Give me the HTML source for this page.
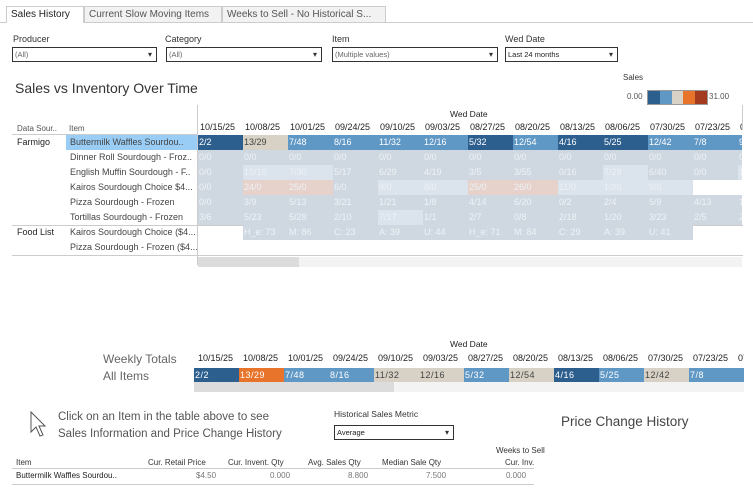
<!DOCTYPE html>
<html><head><meta charset="utf-8"><style>
body{margin:0;width:753px;height:498px;overflow:hidden;background:#fff;font-family:"Liberation Sans",sans-serif;color:#333;position:relative}
.a{position:absolute;white-space:nowrap}
.tab{position:absolute;top:6px;height:16px;font-size:10px;line-height:16px;padding:0 4px;border:1px solid #ccc;border-bottom:none;background:#f2f2f2;color:#555;white-space:nowrap;overflow:hidden;box-sizing:border-box}
.lbl{font-size:9px;color:#333}
.dd{position:absolute;height:13px;border:1px solid #333;font-size:7.5px;line-height:13px;padding-left:2px;color:#666;box-sizing:content-box;white-space:nowrap}
.dd:after{content:"▾";position:absolute;right:4px;top:0;font-size:8px;color:#333}
.cell{position:absolute;height:15px;font-size:9px;line-height:15px;padding-left:1px;box-sizing:border-box;color:#fff;white-space:nowrap;overflow:hidden}
.hd{font-size:9px;color:#222}
</style></head><body>
<div class="a" style="left:0;top:22px;width:753px;height:1px;background:#ccc"></div>
<div class="tab" style="left:6px;width:78px;background:#fff;color:#222;height:17px">Sales History</div>
<div class="tab" style="left:84px;width:138px">Current Slow Moving Items</div>
<div class="tab" style="left:222px;width:164px">Weeks to Sell - No Historical S...</div>

<div class="a lbl" style="left:13px;top:34px">Producer</div>
<div class="dd" style="left:12px;top:47px;width:141px">(All)</div>
<div class="a lbl" style="left:165px;top:34px">Category</div>
<div class="dd" style="left:166px;top:47px;width:152px">(All)</div>
<div class="a lbl" style="left:332px;top:34px">Item</div>
<div class="dd" style="left:332px;top:47px;width:162px">(Multiple values)</div>
<div class="a lbl" style="left:505px;top:34px">Wed Date</div>
<div class="dd" style="left:505px;top:47px;width:109px;color:#222">Last 24 months</div>

<div class="a" style="left:15px;top:80px;font-size:14px;color:#333">Sales vs Inventory Over Time</div>
<div class="a" style="left:623px;top:73px;font-size:8px">Sales</div>
<div class="a" style="left:627px;top:92px;font-size:8px;color:#555">0.00</div>
<div class="a" style="left:647px;top:90px;width:59px;height:13px;border:1px solid #999;display:flex">
<div style="flex:1;background:#2c5f8e"></div><div style="flex:1;background:#5f97c5"></div><div style="flex:1;background:#d7d2c5"></div><div style="flex:1;background:#e8732a"></div><div style="flex:1;background:#a43b1f"></div></div>
<div class="a" style="left:709px;top:92px;font-size:8px;color:#555">31.00</div>

<div class="a" style="left:197px;top:105px;width:1px;height:160px;background:#ccc"></div>
<div class="a" style="left:742px;top:105px;width:1px;height:25px;background:#ccc"></div>
<div class="a hd" style="left:450px;top:109px;font-size:8.5px">Wed Date</div>
<div class="a" style="left:17px;top:124px;font-size:8px;color:#555">Data Sour..</div>
<div class="a" style="left:69px;top:124px;font-size:8px;color:#555">Item</div>
<div class="a" style="left:12px;top:134px;width:185px;height:1px;background:#ccc"></div>
<div class="a" style="left:12px;top:225px;width:731px;height:1px;background:#ccc"></div>
<div class="a" style="left:12px;top:255px;width:731px;height:1px;background:#ccc"></div>
<div class="a" style="left:198px;top:257px;width:544px;height:10px;background:#f3f3f3"></div>
<div class="a" style="left:198px;top:257px;width:101px;height:10px;background:#dcdcdc"></div>
<div class="a" style="left:17px;top:137px;font-size:9px;color:#222">Farmigo</div>
<div class="a" style="left:17px;top:227px;font-size:9px;color:#222">Food List</div>
<div class="a" style="left:66px;top:135px;width:131px;height:15px;background:#99cdf5"></div>
<div id="grid"></div>

<div class="a hd" style="left:450px;top:339px;font-size:8.5px">Wed Date</div>
<div class="a" style="left:103px;top:352px;font-size:12px;color:#666">Weekly Totals</div>
<div class="a" style="left:103px;top:369px;font-size:12px;color:#666">All Items</div>
<div class="a" style="left:194px;top:382px;width:550px;height:10px;background:#f3f3f3"></div>
<div class="a" style="left:194px;top:382px;width:200px;height:10px;background:#dcdcdc"></div>
<div id="weekly"></div>

<svg class="a" style="left:29px;top:410px" width="18" height="28"><path d="M2 2 L2 22 L7 17 L11 26 L14 25 L10 16 L16 16 Z" fill="#fff" stroke="#555" stroke-width="1"/></svg>
<div class="a" style="left:58px;top:409px;font-size:11.5px;line-height:17px;color:#555">Click on an Item in the table above to see<br>Sales Information and Price Change History</div>
<div class="a lbl" style="left:334px;top:409px;font-size:8.5px">Historical Sales Metric</div>
<div class="dd" style="left:334px;top:425px;width:116px;color:#222">Average</div>
<div class="a" style="left:561px;top:414px;font-size:13.5px;color:#444">Price Change History</div>

<div class="a" style="left:496px;top:446px;font-size:8px;color:#333">Weeks to Sell</div>
<div class="a" style="left:16px;top:458px;font-size:8px">Item</div>
<div class="a" style="left:148px;top:458px;font-size:8px">Cur. Retail Price</div>
<div class="a" style="left:228px;top:458px;font-size:8px">Cur. Invent. Qty</div>
<div class="a" style="left:308px;top:458px;font-size:8px">Avg. Sales Qty</div>
<div class="a" style="left:382px;top:458px;font-size:8px">Median Sale Qty</div>
<div class="a" style="left:505px;top:458px;font-size:8px">Cur. Inv.</div>
<div class="a" style="left:12px;top:468px;width:522px;height:1px;background:#ccc"></div>
<div class="a" style="left:16px;top:471px;font-size:8px;color:#222">Buttermilk Waffles Sourdou..</div>
<div class="a" style="left:196px;top:471px;font-size:8px;color:#777">$4.50</div>
<div class="a" style="left:270px;top:471px;font-size:8px;color:#777">0.000</div>
<div class="a" style="left:348px;top:471px;font-size:8px;color:#777">8.800</div>
<div class="a" style="left:426px;top:471px;font-size:8px;color:#777">7.500</div>
<div class="a" style="left:506px;top:471px;font-size:8px;color:#777">0.000</div>
<div class="a" style="left:12px;top:484px;width:522px;height:1px;background:#ccc"></div>

<script>
const dates=["10/15/25","10/08/25","10/01/25","09/24/25","09/10/25","09/03/25","08/27/25","08/20/25","08/13/25","08/06/25","07/30/25","07/23/25","07/16/25"];
const items=["Buttermilk Waffles Sourdou..","Dinner Roll Sourdough - Froz..","English Muffin Sourdough - F..","Kairos Sourdough Choice $4...","Pizza Sourdough - Frozen","Tortillas Sourdough - Frozen","Kairos Sourdough Choice ($4...","Pizza Sourdough - Frozen ($4..."];
const row0=["2/2","13/29","7/48","8/16","11/32","12/16","5/32","12/54","4/16","5/25","12/42","7/8","9/"];
const row1=["0/0","0/0","0/0","0/0","0/0","0/0","0/0","0/0","0/0","0/0","0/0","0/0","0/"];
const row2=["0/0","10/10","7/30","5/17","6/29","4/19","3/5","3/55","0/16","7/29","6/40","0/0","1"];
const row3=["0/0","24/0","25/0","6/0","9/0","8/0","25/0","26/0","11/0","10/0","9/0","",""];
const row4=["0/0","3/9","5/13","3/21","1/21","1/8","4/14","6/20","0/2","2/4","5/9","4/13","1/"];
const row5=["3/6","5/23","5/28","2/10","7/17","1/1","2/7","0/8","2/18","1/20","3/23","2/5","2/"];
const row6=["","H_e: 73","M: 86","C: 23","A: 39","U: 44","H_e: 71","M: 84","C: 29","A: 39","U: 41","",""];
const row7=["","","","","","","","","","","","",""];
const rows=[row0,row1,row2,row3,row4,row5,row6,row7];
const shade0=["d","b","m","m","m","m","d","m","d","d","m","m","m"];
const shade2=["p","l","l","p","p","p","p","p","p","l","p","p","l"];
const shade3=["p","k","k","p","l","l","k","k","l","l","l","",""];
const shade5=["p","p","p","p","l","p","p","p","p","p","p","p","p"];
const weeklyVals=["2/2","13/29","7/48","8/16","11/32","12/16","5/32","12/54","4/16","5/25","12/42","7/8",""];
const weeklyShade=["d","o","m","m","b","b","m","b","d","m","b","m","m"];
const col={d:"#2c5f8e",m:"#5f97c5",b:"#d7d2c5",o:"#e8732a",p:"#cfd8e1",l:"#dbe3ec",k:"#e6d2ca"};
const X0=198,CW=45,Y0=135,RH=15,RIGHT=742;
const xPos=i=>X0+i*CW, yPos=r=>Y0+r*RH;
const g=document.getElementById('grid');
function mk(p,l,t,w,h,bg,txt,c,fs){const e=document.createElement('div');e.className='cell';e.style.left=l+'px';e.style.top=t+'px';e.style.width=w+'px';e.style.height=h+'px';if(bg)e.style.background=bg;e.textContent=txt;if(c)e.style.color=c;if(fs)e.style.fontSize=fs;p.appendChild(e);return e;}
dates.forEach((d,i)=>{const x=xPos(i)+1;const e=mk(g,x,121,Math.min(CW,RIGHT-x),12,null,d,'#222');e.style.lineHeight='12px';

});
items.forEach((it,r)=>{const e=mk(g,69,yPos(r),128,RH,null,it,'#444','9px');

});
rows.forEach((row,r)=>{row.forEach((v,i)=>{
 let s;if(r==0)s=shade0[i];else if(r==2)s=shade2[i];else if(r==3)s=shade3[i];else if(r==5)s=shade5[i];else if(r==6)s=(i==0||i>=11)?"":"p";else if(r==7)s="";else s="p";
 const x=xPos(i),w=Math.min(CW,RIGHT-x);if(w<=0)return;
 const e=mk(g,x,yPos(r),w,RH,s?col[s]:null,v,(s=="b")?'#444':(r==0?'#fff':'#eef2f6'));
 
 
});});
const wk=document.getElementById('weekly');
const WX0=194,WY=368;
dates.forEach((d,i)=>{const x=WX0+i*45+3;if(x>=744)return;const e=mk(wk,x,352,Math.min(45,744-x),12,null,d,'#222');e.style.lineHeight='12px';

});
weeklyVals.forEach((v,i)=>{const x=WX0+i*45,w=Math.min(45,744-x);if(w<=0)return;
 const s=weeklyShade[i];const e=mk(wk,x,WY,w,14,col[s],v,s=="b"?'#444':'#fff');e.style.letterSpacing='0.5px';
 
 });
</script>
</body></html>
